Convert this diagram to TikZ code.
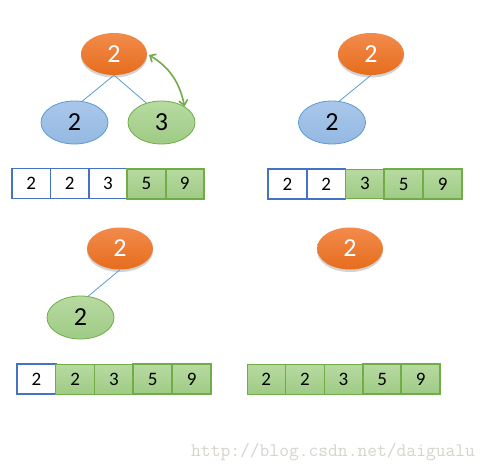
\documentclass[tikz,border=0pt]{standalone}
\usepackage{fontspec}
\setmainfont{Carlito}
\usetikzlibrary{shapes.geometric,shadows,arrows.meta}
\definecolor{orT}{HTML}{F28B4C}
\definecolor{orB}{HTML}{E66D1C}
\definecolor{bluT}{HTML}{A9C7EA}
\definecolor{bluB}{HTML}{94B9E2}
\definecolor{bluL}{HTML}{5B9BD5}
\definecolor{cellB}{HTML}{4472C4}
\definecolor{grT}{HTML}{B7DAA1}
\definecolor{grB}{HTML}{9FCB85}
\definecolor{grL}{HTML}{70AD47}
\definecolor{wmc}{HTML}{D6D3CC}
\tikzset{
  oval/.style={ellipse, inner sep=0pt, minimum width=66pt, minimum height=42pt, font=\fontsize{26}{28}\selectfont},
  orangeoval/.style={oval, top color=orT, bottom color=orB, draw=none, text=white,
    drop shadow={shadow xshift=0pt, shadow yshift=-2.5pt, opacity=0.35}},
  blueoval/.style={oval, minimum width=67pt, minimum height=43pt, top color=bluT, bottom color=bluB, draw=bluL, line width=0.8pt},
  greenoval/.style={oval, minimum width=67pt, minimum height=43pt, top color=grT, bottom color=grB, draw=grL, line width=0.8pt},
  cell/.style={rectangle, inner sep=0pt, minimum height=30pt, font=\fontsize{19}{22}\selectfont},
  wcell/.style={cell, fill=white, draw=cellB, line width=1.6pt},
  gcell/.style={cell, top color=grT, bottom color=grB, draw=grL, line width=0.9pt},
  gcellT/.style={cell, top color=grT, bottom color=grB, draw=grL, line width=2pt},
  link/.style={draw=bluL, line width=0.8pt},
  swap/.style={draw=grL, line width=1.6pt, {Straight Barb[length=5pt,width=9pt]}-{Straight Barb[length=5pt,width=9pt]}}
}
\begin{document}
\begin{tikzpicture}[x=1pt,y=-1pt]
\path[use as bounding box] (0,0) rectangle (493,472);
% ---------- panel 1
\node[blueoval] (b1) at (74.5,122.5) {2};
\node[greenoval] (g1) at (161.5,122.5) {3};
\node[orangeoval] (o1) at (114,54) {2};
\draw[link] (o1.south) -- (b1.70);
\draw[link] (o1.south) -- (g1.128);
\draw[swap, shorten <=2pt] (o1.east) to[bend left=24] (g1.35);
\begin{scope}[every node/.append style={minimum width=38.4pt}]
\node[wcell] (a11) at (31.2,183.5) {2};
\node[wcell] (a12) at (69.6,183.5) {2};
\node[wcell] (a13) at (108,183.5) {3};
\node[gcellT] (a14) at (146.4,183.5) {5};
\node[gcellT] (a15) at (184.8,183.5) {9};
\end{scope}
% ---------- panel 2
\node[blueoval] (b2) at (332,122.5) {2};
\node[orangeoval] (o2) at (371,54) {2};
\draw[link] (o2.south) -- (b2.71);
\begin{scope}[every node/.append style={minimum width=38.8pt}]
\node[wcell] (a21) at (287.4,184) {2};
\node[wcell] (a22) at (326.2,184) {2};
\node[gcell, minimum height=29pt] (a23) at (365,183.5) {3};
\node[gcellT] (a24) at (403.8,184) {5};
\node[gcellT] (a25) at (442.6,184) {9};
\end{scope}
% ---------- panel 3
\node[greenoval] (g3) at (80.5,317.5) {2};
\node[orangeoval] (o3) at (120,248.5) {2};
\draw[link] (o3.south) -- (g3.70);
\begin{scope}[every node/.append style={minimum width=38.8pt}]
\node[wcell] (a31) at (36.4,379) {2};
\node[gcell] (a32) at (75.2,379) {2};
\node[gcell] (a33) at (114,379) {3};
\node[gcellT] (a34) at (152.8,379) {5};
\node[gcellT] (a35) at (191.6,379) {9};
\end{scope}
% ---------- panel 4
\node[orangeoval] (o4) at (350,248.5) {2};
\begin{scope}[every node/.append style={minimum width=38.6pt}]
\node[gcell] (a41) at (266.3,379) {2};
\node[gcell] (a42) at (304.9,379) {2};
\node[gcell] (a43) at (343.5,379) {3};
\node[gcellT] (a44) at (382.1,379) {5};
\node[gcellT] (a45) at (420.7,379) {9};
\end{scope}
% ---------- watermark
\node[anchor=base west, inner sep=0pt, text=wmc, font=\ttfamily\fontsize{19}{21}\selectfont] (wm) at (191,456) {http://blog.csdn.net/daigualu};
\end{tikzpicture}
\end{document}
